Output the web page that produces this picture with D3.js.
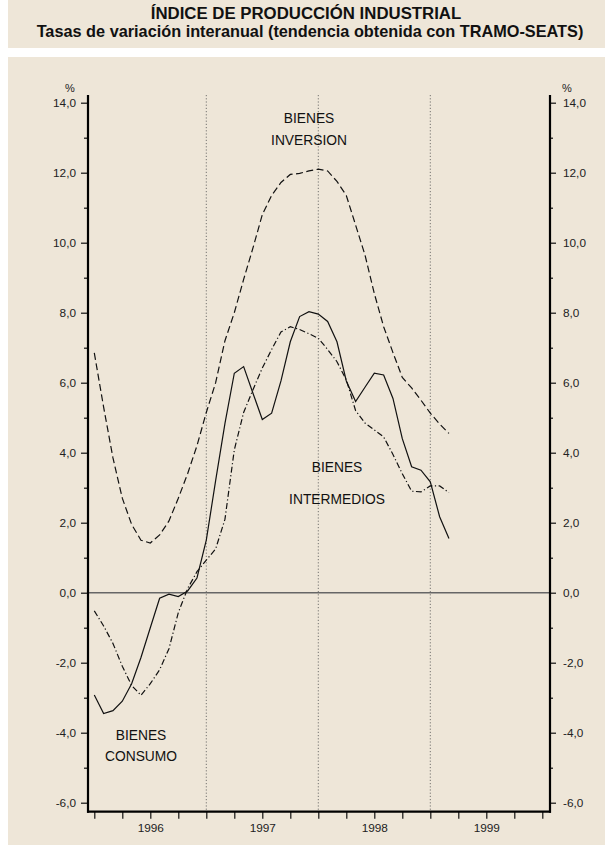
<!DOCTYPE html>
<html><head><meta charset="utf-8">
<script src="https://cdn.jsdelivr.net/npm/d3@7"></script>
<style>
html,body{margin:0;padding:0;background:#fff;}
svg{display:block;font-family:"Liberation Sans",Arial,Helvetica,sans-serif;}
</style></head><body>
<svg id="chart" width="613" height="853"></svg>
<script>
const titleLines = ["ÍNDICE DE PRODUCCIÓN INDUSTRIAL",
  "Tasas de variación interanual (tendencia obtenida con TRAMO-SEATS)"];

const months = ["1996-01","1996-02","1996-03","1996-04","1996-05","1996-06","1996-07","1996-08","1996-09","1996-10","1996-11","1996-12",
  "1997-01","1997-02","1997-03","1997-04","1997-05","1997-06","1997-07","1997-08","1997-09","1997-10","1997-11","1997-12",
  "1998-01","1998-02","1998-03","1998-04","1998-05","1998-06","1998-07","1998-08","1998-09","1998-10","1998-11","1998-12",
  "1999-01","1999-02","1999-03"];

const consumo = [-2.92,-3.45,-3.37,-3.10,-2.60,-1.85,-1.00,-0.16,-0.04,-0.11,0.05,0.42,
  1.50,3.20,4.84,6.27,6.46,5.70,4.95,5.13,6.05,7.17,7.89,8.03,
  7.96,7.75,7.17,6.05,5.46,5.87,6.27,6.22,5.55,4.40,3.60,3.50,
  3.17,2.17,1.55];

const inversion = [6.85,5.30,3.85,2.70,1.95,1.50,1.42,1.65,2.05,2.70,3.40,4.20,
  5.15,6.00,7.20,8.00,8.95,9.85,10.80,11.35,11.72,11.95,11.98,12.05,
  12.10,12.05,11.75,11.35,10.50,9.65,8.55,7.60,6.86,6.15,5.85,5.50,
  5.13,4.82,4.55];

const intermedios = [-0.52,-0.95,-1.45,-2.10,-2.65,-2.93,-2.60,-2.20,-1.60,-0.57,0.12,0.60,
  0.93,1.25,2.10,4.08,5.15,5.80,6.42,6.95,7.45,7.60,7.52,7.40,
  7.27,6.95,6.60,6.08,5.20,4.85,4.65,4.45,3.95,3.40,2.90,2.88,
  3.05,3.05,2.86];

const yTicks = [-6,-4,-2,0,2,4,6,8,10,12,14];
const yMinor = [-5,-3,-1,1,3,5,7,9,11,13];
const years = ["1996","1997","1998","1999"];
const yearBreaks = [12,24,36];
const labels = [
  {lines:["BIENES","INVERSION"], x:309, y:[118,139.5]},
  {lines:["BIENES","INTERMEDIOS"], x:337, y:[467,498.5]},
  {lines:["BIENES","CONSUMO"], x:141, y:[735,756]}
];

(function(){
const svg = d3.select("#chart");
const bg = "#EEE6D8";

svg.append("rect").attr("x",8).attr("y",0).attr("width",597).attr("height",48).attr("fill",bg);
svg.append("rect").attr("x",8).attr("y",57).attr("width",597).attr("height",788).attr("fill",bg);

svg.append("text").attr("x",306).attr("y",18.5).attr("text-anchor","middle")
  .attr("font-size",16.8).attr("font-weight","bold").attr("fill","#111").text(titleLines[0]);
svg.append("text").attr("x",310).attr("y",37).attr("text-anchor","middle")
  .attr("font-size",16.3).attr("font-weight","bold").attr("fill","#111").text(titleLines[1]);

const x = d3.scaleLinear().domain([0,48]).range([94.3,542.3]);
const y = d3.scaleLinear().domain([-6,14]).range([802.7,102.7]);
const pL = 88, pR = 550, pT = 95, pB = 811.7;

svg.append("g").selectAll("line").data(yearBreaks).join("line")
  .attr("x1",d=>x(d)).attr("x2",d=>x(d)).attr("y1",pT).attr("y2",pB)
  .attr("stroke","#555").attr("stroke-width",0.8).attr("stroke-dasharray","1.2,2");

svg.append("line").attr("x1",pL).attr("x2",pR).attr("y1",y(0)).attr("y2",y(0))
  .attr("stroke","#666").attr("stroke-width",1.5);

const fmt = d => d3.format(".1f")(d).replace(".",",").replace("−","-");
const axL = svg.append("g").attr("transform",`translate(${pL},0)`)
  .call(d3.axisLeft(y).tickValues(yTicks).tickSize(7).tickPadding(5).tickFormat(fmt));
const axLm = svg.append("g").attr("transform",`translate(${pL},0)`)
  .call(d3.axisLeft(y).tickValues(yMinor).tickSize(4).tickFormat(""));
const axR = svg.append("g").attr("transform",`translate(${pR},0)`)
  .call(d3.axisRight(y).tickValues(yTicks).tickSize(6).tickPadding(7).tickFormat(fmt));
const axRm = svg.append("g").attr("transform",`translate(${pR},0)`)
  .call(d3.axisRight(y).tickValues(yMinor).tickSize(3).tickFormat(""));
const qTicks = d3.range(0,49,3);
const axB = svg.append("g").attr("transform",`translate(0,${pB})`)
  .call(d3.axisBottom(x).tickValues(qTicks).tickSize(7).tickFormat(""));
const axBl = svg.append("g").attr("transform",`translate(0,${pB})`)
  .call(d3.axisBottom(x).tickValues([6,18,30,42]).tickSize(0).tickPadding(12).tickFormat((d,i)=>years[i]));
[axL,axLm,axR,axRm,axB,axBl].forEach(g=>{
  g.select(".domain").remove();
  g.selectAll(".tick line").attr("stroke","#111").attr("stroke-width",1.2);
  g.selectAll("text").attr("font-size",11.8).attr("fill","#222").attr("font-family","'Liberation Sans',Arial,sans-serif");
});
axBl.selectAll(".tick line").remove();

svg.append("line").attr("x1",pL).attr("x2",pL).attr("y1",pT).attr("y2",pB+1)
  .attr("stroke","#000").attr("stroke-width",2.2);
svg.append("line").attr("x1",pR).attr("x2",pR).attr("y1",pT).attr("y2",pB+1)
  .attr("stroke","#000").attr("stroke-width",2.2);
svg.append("line").attr("x1",pL-1).attr("x2",pR+1).attr("y1",pB).attr("y2",pB)
  .attr("stroke","#000").attr("stroke-width",2.2);

svg.append("text").attr("x",65).attr("y",92).attr("font-size",11).attr("fill","#222").text("%");
svg.append("text").attr("x",562).attr("y",92).attr("font-size",11).attr("fill","#222").text("%");

const line = d3.line().x((d,i)=>x(i)).y(d=>y(d)).curve(d3.curveLinear);
const series = [
  {data:inversion, dash:"7,3.5"},
  {data:intermedios, dash:"6,2.5,1.2,2.5"},
  {data:consumo, dash:null}
];
series.forEach(s=>{
  svg.append("path").datum(s.data).attr("d",line).attr("fill","none")
    .attr("stroke","#111").attr("stroke-width",1.2)
    .attr("stroke-dasharray",s.dash);
});

labels.forEach(l=>{
  l.lines.forEach((t,i)=>{
    svg.append("text").attr("x",l.x).attr("y",l.y[i]+5).attr("text-anchor","middle")
      .attr("font-size",13.8).attr("fill","#111").text(t);
  });
});
})();
</script>
</body></html>
